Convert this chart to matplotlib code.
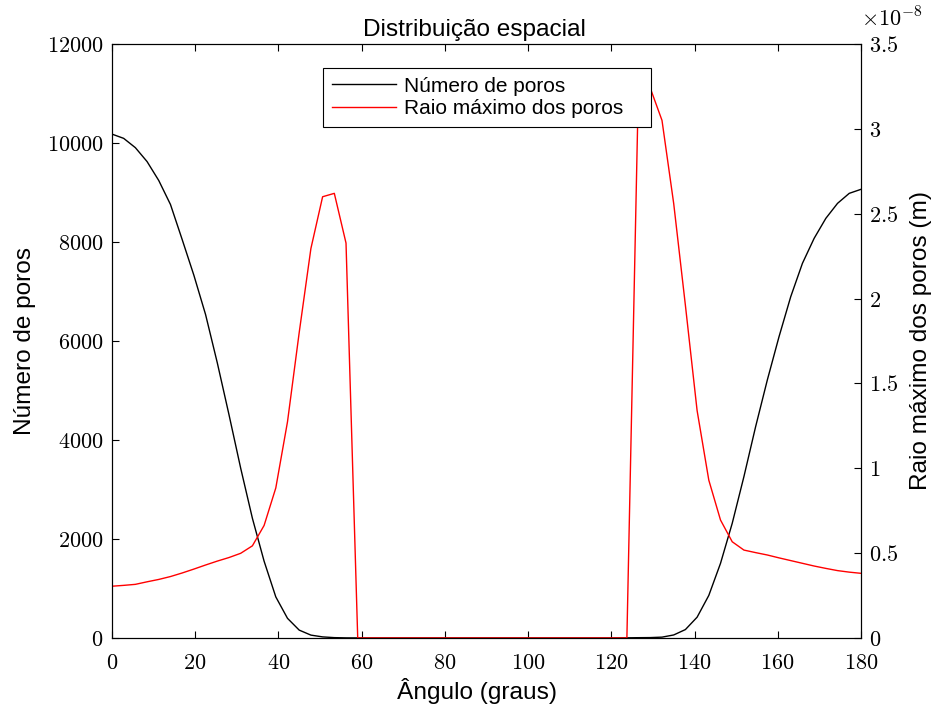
import numpy as np
import matplotlib
matplotlib.use("Agg")
from matplotlib import pyplot
from matplotlib.ticker import FuncFormatter, MultipleLocator

pyplot.rcParams["font.family"] = ["Liberation Sans", "DejaVu Sans"]
pyplot.rcParams["mathtext.fontset"] = "cm"

# angle grid (65 samples, 0..180 degrees)
angulo = np.linspace(0, 180, 65)

numero_poros = [10180, 10094, 9906, 9625, 9242, 8758, 8050, 7328, 6534, 5560,
                4512, 3430, 2419, 1552, 830, 397, 159, 58, 22, 7, 2, 1,
                0, 0, 0, 0, 0, 0, 0, 0, 0, 0, 0, 0, 0, 0, 0, 0, 0, 0, 0, 0, 0,
                1, 3, 6, 8, 17, 61, 170, 420, 860, 1508, 2316, 3260, 4269,
                5212, 6087, 6895, 7569, 8074, 8478, 8781, 8983, 9064]

# raio maximo, in units of 1e-8 m
raio_e8 = [0.305, 0.310, 0.316, 0.331, 0.345, 0.362, 0.383, 0.406, 0.430, 0.453,
           0.474, 0.499, 0.543, 0.663, 0.884, 1.274, 1.80, 2.295, 2.60, 2.62,
           2.327, 0,
           0, 0, 0, 0, 0, 0, 0, 0, 0, 0, 0, 0, 0, 0, 0, 0, 0, 0, 0, 0, 0, 0, 0,
           3.30, 3.24, 3.05, 2.56, 1.96, 1.34, 0.93, 0.695, 0.567, 0.518,
           0.503, 0.489, 0.472, 0.456, 0.440, 0.424, 0.410, 0.397, 0.388, 0.381]
raio = np.asarray(raio_e8) * 1e-8

fig = pyplot.figure(figsize=(9.4, 7.11), dpi=100)
ax = fig.add_axes([0.1191, 0.1027, 0.7968, 0.8354])
ax2 = ax.twinx()

l1, = ax.plot(angulo, numero_poros, "-", color="black", lw=1.0,
              label="Número de poros")
l2, = ax2.plot(angulo, raio, "-", color="red", lw=1.0,
               label="Raio máximo dos poros")

ax.set_xlim(0, 180)
ax.set_ylim(0, 12000)
ax2.set_ylim(0, 3.5e-8)
ax.xaxis.set_major_locator(MultipleLocator(20))
ax.yaxis.set_major_locator(MultipleLocator(2000))
ax2.yaxis.set_major_locator(MultipleLocator(0.5e-8))

tickfmt = FuncFormatter(lambda v, p: "$%g$" % v)
ax.xaxis.set_major_formatter(tickfmt)
ax.yaxis.set_major_formatter(tickfmt)
ax2.yaxis.set_major_formatter(FuncFormatter(lambda v, p: "$%g$" % round(v / 1e-8, 3)))

ax.tick_params(axis="x", direction="in", length=5, top=True, labelsize=16, pad=11)
ax.tick_params(axis="y", direction="in", length=5, right=False, labelsize=16, pad=6)
ax2.tick_params(axis="y", direction="in", length=5, labelsize=16, pad=6)

for a in (ax, ax2):
    for s in a.spines.values():
        s.set_linewidth(0.8)

ax2.text(1.0, 1.021, r"$\times10^{-8}$", transform=ax2.transAxes,
         fontsize=16, ha="left", va="bottom")

ax.set_title("Distribuição espacial", fontsize=17.6, pad=6, x=0.484)
ax.set_xlabel("Ângulo (graus)", fontsize=17.6, labelpad=3, x=0.487)
ax.set_ylabel("Número de poros", fontsize=17.6, labelpad=8)
ax2.set_ylabel("Raio máximo dos poros (m)", fontsize=17.6, labelpad=8)

# legend box spans a fixed width, entries left aligned (MATLAB look)
leg = ax2.legend([l1, l2], [l1.get_label(), l2.get_label()], loc="upper left",
                 bbox_to_anchor=(0.2817, 0.0, 0.438, 0.96), mode="expand",
                 borderaxespad=0, fontsize=15,
                 frameon=True, fancybox=False, edgecolor="black", framealpha=1,
                 handlelength=3.1, handletextpad=0.35, borderpad=0.42,
                 labelspacing=0.18)
leg.get_frame().set_linewidth(0.8)

fig.savefig("out.png", dpi=100)
